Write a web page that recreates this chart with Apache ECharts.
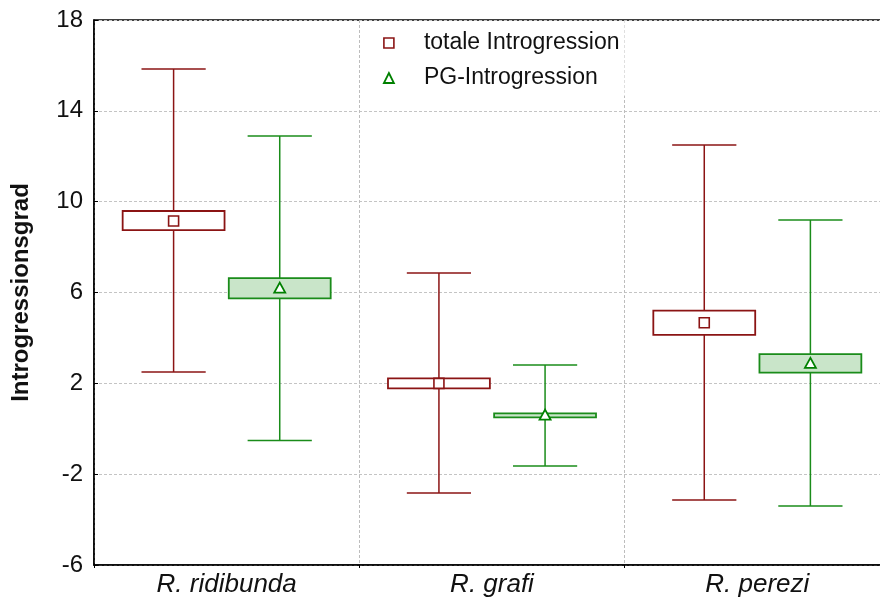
<!DOCTYPE html>
<html>
<head>
<meta charset="utf-8">
<script src="https://cdn.jsdelivr.net/npm/echarts@6/dist/echarts.min.js"></script>
<style>
  html, body { margin: 0; padding: 0; background: #fff; }
  #chart { width: 880px; height: 602px; }
</style>
</head>
<body>
<div id="chart"></div>
<script>
// Species groups along the x axis
const categories = ['R. ridibunda', 'R. grafi', 'R. perezi'];

// Degree of introgression: mean, box (lower/upper) and whisker (lower/upper)
const totalMean   = [9.15, 2.00, 4.67];
const totalBoxLo  = [8.75, 1.78, 4.13];
const totalBoxHi  = [9.59, 2.22, 5.20];
const totalWhLo   = [2.50, -2.83, -3.14];
const totalWhHi   = [15.84, 6.86, 12.50];

const pgMean   = [6.19, 0.60, 2.88];
const pgBoxLo  = [5.74, 0.50, 2.47];
const pgBoxHi  = [6.63, 0.68, 3.29];
const pgWhLo   = [-0.52, -1.64, -3.40];
const pgWhHi   = [12.89, 2.81, 9.19];

// Value axis ticks
const yMin = -6, yMax = 18, yStep = 4;

const FONT = '"Liberation Sans", Arial, sans-serif';
const RED = '#8b1414';
const GREEN = '#1a8c1a';

function rows(mean, lo, hi, wlo, whi) {
  return categories.map((c, i) => [i, mean[i], lo[i], hi[i], wlo[i], whi[i]]);
}

function makeRender(offset, lineColor, boxFill, marker) {
  return function (params, api) {
    const idx = api.value(0);
    const band = api.size([1, 0])[0];
    const cx = api.coord([idx, 0])[0] + offset * band;
    const yMean = api.coord([idx, api.value(1)])[1];
    const yLo = api.coord([idx, api.value(2)])[1];
    const yHi = api.coord([idx, api.value(3)])[1];
    const yWLo = api.coord([idx, api.value(4)])[1];
    const yWHi = api.coord([idx, api.value(5)])[1];
    const halfBox = band * 0.192;
    const halfCap = band * 0.121;
    const ls = { stroke: lineColor, lineWidth: 1.5 };
    const children = [
      { type: 'line', shape: { x1: cx, y1: yWHi, x2: cx, y2: yWLo }, style: ls },
      { type: 'line', shape: { x1: cx - halfCap, y1: yWHi, x2: cx + halfCap, y2: yWHi }, style: ls },
      { type: 'line', shape: { x1: cx - halfCap, y1: yWLo, x2: cx + halfCap, y2: yWLo }, style: ls },
      { type: 'rect', shape: { x: cx - halfBox, y: yHi, width: halfBox * 2, height: yLo - yHi },
        style: { fill: boxFill, stroke: lineColor, lineWidth: 1.8 } }
    ];
    if (marker === 'square') {
      children.push({ type: 'rect', shape: { x: cx - 5, y: yMean - 5, width: 10, height: 10 },
        style: { fill: '#fff', stroke: lineColor, lineWidth: 1.6 } });
    } else {
      children.push({ type: 'polygon', shape: { points: [[cx, yMean - 5.5], [cx - 5.5, yMean + 4.5], [cx + 5.5, yMean + 4.5]] },
        style: { fill: '#fff', stroke: '#008000', lineWidth: 1.8 } });
    }
    return { type: 'group', children: children };
  };
}

const chart = echarts.init(document.getElementById('chart'), null, { renderer: 'canvas' });

chart.setOption({
  animation: false,
  backgroundColor: '#fff',
  textStyle: { fontFamily: FONT },
  grid: {
    left: 94, top: 20, height: 545, width: 796,
    outerBoundsMode: 'none',
    containLabel: false,
    show: true, borderColor: '#000', borderWidth: 1.5, backgroundColor: 'transparent'
  },
  legend: {
    orient: 'vertical',
    left: 360, top: 21,
    padding: [10, 5, 6, 23],
    backgroundColor: '#fff',
    itemWidth: 10, itemHeight: 10,
    itemGap: 11,
    textStyle: { fontSize: 23, color: '#111', fontFamily: FONT, lineHeight: 24, padding: [0, 0, 0, 25] },
    data: [
      { name: 'totale Introgression', icon: 'rect',
        itemStyle: { color: '#fff', borderColor: RED, borderWidth: 1.6 } },
      { name: 'PG-Introgression', icon: 'triangle',
        itemStyle: { color: '#fff', borderColor: '#008000', borderWidth: 1.8 } }
    ]
  },
  xAxis: {
    type: 'category',
    data: categories,
    boundaryGap: true,
    axisLine: { onZero: false, lineStyle: { color: '#000', width: 1.5 } },
    axisTick: { show: true, inside: false, length: 3, lineStyle: { color: '#000' } },
    axisLabel: { fontSize: 26, fontStyle: 'italic', color: '#111', fontFamily: FONT, margin: 7 },
    splitLine: { show: true, lineStyle: { color: '#bdbdbd', type: [3, 2], width: 1 } }
  },
  yAxis: {
    type: 'value',
    min: yMin, max: yMax, interval: yStep,
    name: 'Introgressionsgrad',
    nameLocation: 'middle',
    nameRotate: 90,
    nameGap: 61,
    nameTextStyle: { fontSize: 24, fontWeight: 'bold', color: '#111', fontFamily: FONT },
    axisLine: { show: true, lineStyle: { color: '#000', width: 1.5 } },
    axisTick: { show: true, inside: true, length: 4, lineStyle: { color: '#000' } },
    axisLabel: { fontSize: 24, color: '#111', fontFamily: FONT, margin: 11 },
    splitLine: { show: true, lineStyle: { color: '#c4c4c4', type: [3, 2], width: 1 } }
  },
  series: [
    {
      name: 'totale Introgression',
      type: 'custom',
      itemStyle: { color: RED },
      renderItem: makeRender(-0.2, RED, '#fff', 'square'),
      encode: { x: 0, y: [1, 2, 3, 4, 5] },
      data: rows(totalMean, totalBoxLo, totalBoxHi, totalWhLo, totalWhHi)
    },
    {
      name: 'PG-Introgression',
      type: 'custom',
      itemStyle: { color: GREEN },
      renderItem: makeRender(0.2, GREEN, '#c9e5c9', 'triangle'),
      encode: { x: 0, y: [1, 2, 3, 4, 5] },
      data: rows(pgMean, pgBoxLo, pgBoxHi, pgWhLo, pgWhHi)
    }
  ]
});
</script>
</body>
</html>
